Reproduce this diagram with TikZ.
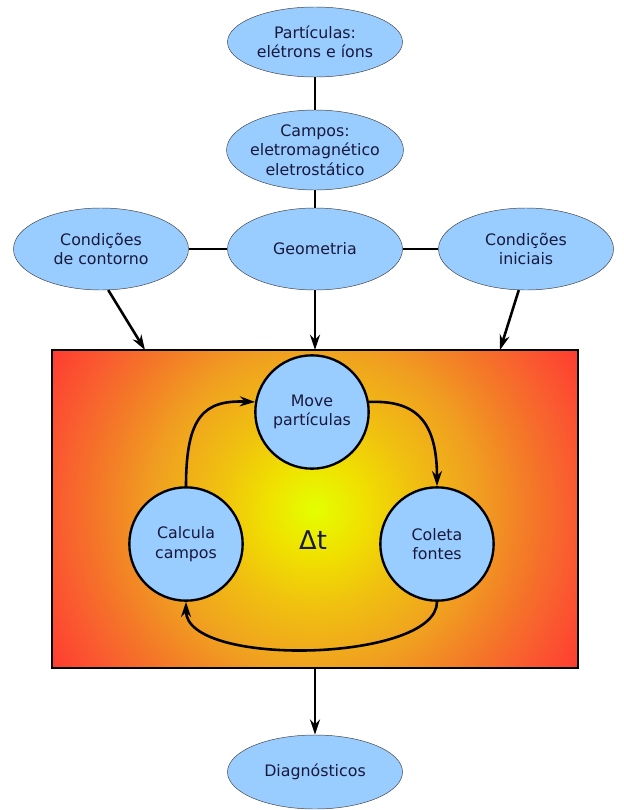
\documentclass[tikz,border=0pt]{standalone}
\usepackage{fontspec}
\setmainfont{DejaVu Sans}
\usetikzlibrary{shapes.geometric,arrows.meta}
\definecolor{azul}{RGB}{153,204,255}
\definecolor{tinta}{RGB}{25,25,60}
\definecolor{amarelo}{RGB}{228,255,0}
\definecolor{ouro}{RGB}{240,224,0}
\definecolor{ambar}{RGB}{240,192,16}
\definecolor{laranja}{RGB}{240,160,32}
\definecolor{laranjab}{RGB}{244,120,40}
\definecolor{rubro}{RGB}{250,90,48}
\definecolor{vermelho}{RGB}{255,58,48}
\pgfdeclareradialshading{brilho}{\pgfpoint{0bp}{0bp}}{%
  color(0bp)=(amarelo); color(4bp)=(ouro); color(8bp)=(ambar);
  color(13bp)=(laranja); color(17.5bp)=(laranjab); color(21bp)=(rubro);
  color(25bp)=(vermelho); color(50bp)=(vermelho)}
\tikzset{
  elipse/.style={ellipse, draw=black!75, fill=azul, text=tinta, align=center,
    minimum width=5.25cm, minimum height=2.4cm, inner sep=-2pt,
    font=\fontsize{13.5}{16.5}\selectfont},
  etapa/.style={circle, draw=black, line width=2pt, fill=azul, text=tinta,
    align=center, minimum size=3.4cm, inner sep=0pt,
    font=\fontsize{13.5}{16.5}\selectfont},
  liga/.style={line width=2.4pt},
  seta/.style={line width=2.2pt, -{Stealth[length=13pt,width=8.5pt]}},
}
\begin{document}
\begin{tikzpicture}[x=0.03cm,y=-0.03cm]
  \useasboundingbox (0,0) rectangle (624,810);
  % Entradas
  \node[elipse, minimum height=2.1cm] (part) at (315,42) {Partículas:\\elétrons e íons};
  \node[elipse] (campos) at (315,150) {Campos:\\eletromagnético\\eletrostático};
  \node[elipse, minimum height=2.46cm] (cond) at (101,249) {Condições\\de contorno};
  \node[elipse, minimum height=2.46cm] (geom) at (315,249) {Geometria};
  \node[elipse, minimum height=2.46cm] (init) at (526,249) {Condições\\iniciais};
  \draw[liga] (part) -- (campos);
  \draw[liga] (campos) -- (geom);
  \draw[liga] (cond) -- (geom);
  \draw[liga] (geom) -- (init);
  % Laco principal
  \node[draw, line width=2.5pt, minimum width=15.78cm, minimum height=9.54cm,
    path picture={\shade[shading=brilho] (path picture bounding box.center) circle (9.3cm);}]
    (box) at (315,509) {};
  \coordinate (in1) at (145,350);
  \coordinate (in2) at (315,350);
  \coordinate (in3) at (500,350);
  \draw[seta] (cond.-80) -- (in1);
  \draw[seta] (geom.south) -- (in2);
  \draw[seta] (init.-100) -- (in3);
  % Ciclo
  \node[etapa] (move) at (312,412) {Move\\partículas};
  \node[etapa] (calc) at (186,544) {Calcula\\campos};
  \node[etapa] (colet) at (437,544) {Coleta\\fontes};
  \node[text=tinta, font=\fontsize{22}{26}\selectfont] (dt) at (313,540) {Δt};
  \draw[seta] (calc.north) .. controls (186,415) and (205,400) .. (move.170);
  \draw[seta] (move.10) .. controls (415,400) and (437,420) .. (colet.north);
  \draw[seta] (colet.south) .. controls (437,662) and (186,668) .. (calc.south);
  % Saida
  \node[elipse, minimum height=2.22cm] (diag) at (315,772) {Diagnósticos};
  \draw[seta] (box.south) -- (diag.north);
\end{tikzpicture}
\end{document}
